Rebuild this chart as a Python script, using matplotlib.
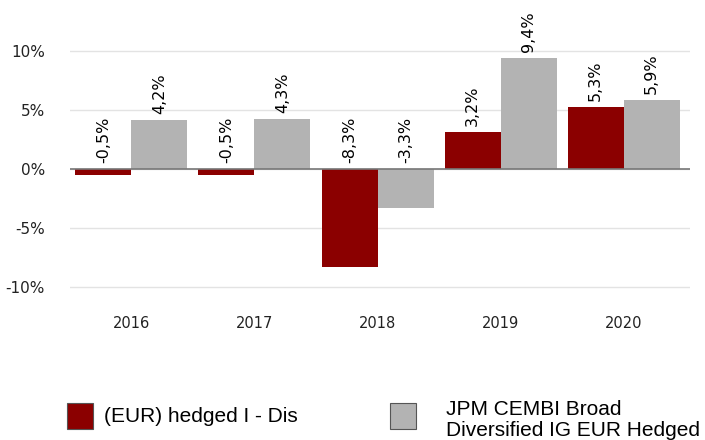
# Annual returns bar chart: fund vs benchmark.
import numpy as np
import matplotlib
matplotlib.use('Agg')
from matplotlib import pyplot as plt
from matplotlib.patches import Rectangle

# Data.
years = ['2016', '2017', '2018', '2019', '2020']
fund_returns = [-0.5, -0.5, -8.3, 3.2, 5.3]
bench_returns = [4.2, 4.3, -3.3, 9.4, 5.9]
fund_name = '(EUR) hedged I - Dis'
bench_name = 'JPM CEMBI Broad\nDiversified IG EUR Hedged'
y_ticks = [-10, -5, 0, 5, 10]

RED = '#8b0000'
GREY = '#b3b3b3'
BAR_W = 0.455

fig = plt.figure(figsize=(7.05, 4.4), dpi=100)
ax = fig.add_axes([0.099, 0.32, 0.88, 0.644])

x = np.arange(len(years))
ax.bar(x - BAR_W / 2, fund_returns, BAR_W, color=RED, zorder=3)
ax.bar(x + BAR_W / 2, bench_returns, BAR_W, color=GREY, zorder=3)

# Value labels, rotated. Negative values sit just above the zero line.
for xs, vals in ((x - BAR_W / 2, fund_returns), (x + BAR_W / 2, bench_returns)):
    for xi, v in zip(xs, vals):
        base = max(v, 0) + 0.5
        ax.text(xi, base, f'{v:.1f}%'.replace('.', ','), rotation=90,
                ha='center', va='bottom', fontsize=11.5, color='black')

ax.set_xlim(-0.5, 4.54)
ax.set_ylim(-11, 13)
ax.set_yticks(y_ticks)
ax.set_yticklabels([f'{t}%' for t in y_ticks])
ax.set_xticks(x)
ax.set_xticklabels(years)
ax.tick_params(axis='both', length=0, labelsize=10.5, colors='#222222')
ax.tick_params(axis='x', pad=12)
ax.tick_params(axis='y', pad=18)
for lbl in ax.get_yticklabels():
    lbl.set_fontsize(11)

ax.grid(axis='y', color='#e3e3e3', linewidth=1, zorder=0)
ax.axhline(0, color='#777777', linewidth=1.2, zorder=4)
for s in ax.spines.values():
    s.set_visible(False)

# Legend drawn by hand to match the layout.
W, H = 705, 440
def legend_item(px, py, tx, ty, color, label):
    fig.patches.append(Rectangle((px / W, 1 - (py + 26) / H), 26 / W, 26 / H,
                                 transform=fig.transFigure, facecolor=color,
                                 edgecolor='#555555', linewidth=0.8))
    fig.text(tx / W, 1 - ty / H, label, fontsize=15,
             family='Liberation Sans', va='center', ha='left',
             linespacing=1.15)

legend_item(67, 403, 104, 416, RED, fund_name)
legend_item(390, 403, 446, 420, GREY, bench_name)

fig.savefig('out.png', dpi=100)
